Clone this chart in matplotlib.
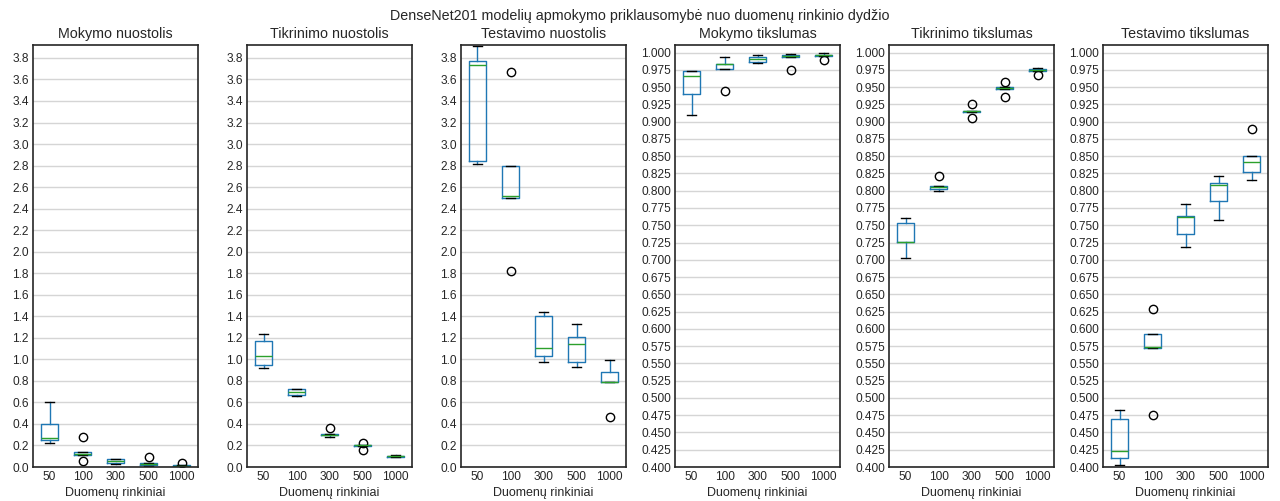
import numpy as np
import matplotlib
matplotlib.use("Agg")
import matplotlib.pyplot as plt

plt.rcParams['font.family'] = ['Liberation Sans', 'DejaVu Sans']

# dataset sizes (x categories)
sizes = ["50", "100", "300", "500", "1000"]

# five runs per dataset size
train_loss = [
    [0.22, 0.25, 0.265, 0.40, 0.60],
    [0.06, 0.11, 0.12, 0.14, 0.28],
    [0.03, 0.035, 0.055, 0.07, 0.07],
    [0.01, 0.02, 0.03, 0.035, 0.09],
    [0.005, 0.008, 0.01, 0.015, 0.04],
]
val_loss = [
    [0.92, 0.95, 1.03, 1.17, 1.24],
    [0.66, 0.665, 0.70, 0.72, 0.725],
    [0.28, 0.295, 0.30, 0.305, 0.36],
    [0.16, 0.195, 0.20, 0.20, 0.225],
    [0.09, 0.095, 0.10, 0.105, 0.11],
]
test_loss = [
    [2.81, 2.84, 3.73, 3.77, 3.915],
    [1.82, 2.50, 2.52, 2.80, 3.67],
    [0.98, 1.03, 1.105, 1.40, 1.44],
    [0.925, 0.978, 1.142, 1.21, 1.33],
    [0.464, 0.788, 0.79, 0.882, 0.993],
]
train_acc = [
    [0.910, 0.940, 0.966, 0.973, 0.974],
    [0.945, 0.976, 0.983, 0.984, 0.994],
    [0.985, 0.986, 0.991, 0.993, 0.997],
    [0.975, 0.993, 0.995, 0.996, 0.998],
    [0.990, 0.995, 0.996, 0.997, 0.999],
]
val_acc = [
    [0.703, 0.726, 0.726, 0.754, 0.761],
    [0.800, 0.803, 0.805, 0.807, 0.821],
    [0.906, 0.914, 0.915, 0.916, 0.925],
    [0.935, 0.948, 0.949, 0.950, 0.957],
    [0.967, 0.974, 0.975, 0.976, 0.977],
]
test_acc = [
    [0.4025, 0.4135, 0.4235, 0.4698, 0.4823],
    [0.475, 0.573, 0.574, 0.592, 0.629],
    [0.718, 0.737, 0.762, 0.763, 0.781],
    [0.758, 0.785, 0.808, 0.811, 0.821],
    [0.816, 0.827, 0.842, 0.850, 0.890],
]

titles = ["Mokymo nuostolis", "Tikrinimo nuostolis", "Testavimo nuostolis",
          "Mokymo tikslumas", "Tikrinimo tikslumas", "Testavimo tikslumas"]
xlabel = "Duomenų rinkiniai"
suptitle = "DenseNet201 modelių apmokymo priklausomybė nuo duomenų rinkinio dydžio"

fig, axes = plt.subplots(1, 6, figsize=(12.8, 5.01), dpi=100)
fig.subplots_adjust(left=33/1280, right=1268/1280, bottom=34/501, top=456/501,
                    wspace=49/165)

all_data = [train_loss, val_loss, test_loss, train_acc, val_acc, test_acc]

for i, (ax, data, title) in enumerate(zip(axes, all_data, titles)):
    ax.boxplot(data, widths=0.52,
               boxprops=dict(color="#1f77b4"),
               whiskerprops=dict(color="#1f77b4"),
               capprops=dict(color="black"),
               medianprops=dict(color="#2ca02c"),
               flierprops=dict(marker="o", markerfacecolor="none",
                               markeredgecolor="black", markersize=6))
    ax.set_xticks(range(1, len(sizes) + 1))
    ax.set_xticklabels(sizes)
    if i < 3:
        ax.set_ylim(0, 3.92)
        ax.set_yticks(np.arange(0, 3.81, 0.2))
        ax.yaxis.set_major_formatter(matplotlib.ticker.FormatStrFormatter('%.1f'))
    else:
        ax.set_ylim(0.4, 1.011)
        ax.set_yticks(np.arange(0.4, 1.0001, 0.025))
        ax.yaxis.set_major_formatter(matplotlib.ticker.FormatStrFormatter('%.3f'))
    ax.set_title(title, fontsize=10.3, color="#262626", pad=5)
    ax.set_xlabel(xlabel, fontsize=9, color="#262626", labelpad=3)
    ax.yaxis.grid(True, color="#d5d5d5", linewidth=1)
    ax.xaxis.grid(False)
    ax.set_axisbelow(True)
    ax.tick_params(length=0, labelsize=8.6, labelcolor="#262626", pad=3)
    for sp in ax.spines.values():
        sp.set_color("#262626")
        sp.set_linewidth(1.2)

fig.suptitle(suptitle, fontsize=10.3, color="#262626", y=0.982)
fig.savefig("out.png", dpi=100)
